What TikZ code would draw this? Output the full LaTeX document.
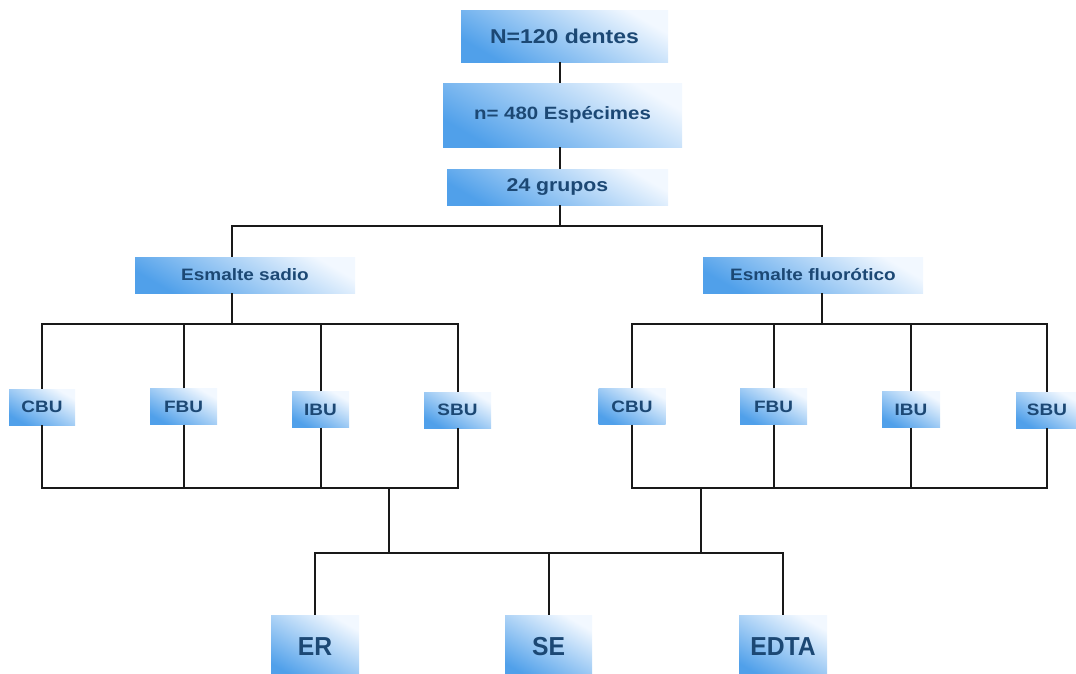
\documentclass[tikz,border=0pt]{standalone}
\usepackage{fontspec}
\setmainfont{Liberation Sans}
\newfontfamily\boxfont{Liberation Sans}[FakeStretch=1.15]
\newfontfamily\bigboxfont{Liberation Sans}[FakeStretch=0.95]
\definecolor{boxdark}{RGB}{80,160,234}
\definecolor{boxlight}{RGB}{242,248,255}
\definecolor{txtblue}{RGB}{28,72,116}
\definecolor{linegray}{RGB}{25,25,25}
\tikzset{
    box/.style={inner sep=0pt, top color=boxlight, bottom color=boxdark, shading angle=-30,
        text=txtblue, font=\boxfont\bfseries},
    leaf/.style={box, minimum height=36pt, font=\boxfont\bfseries\fontsize{16.5}{16.5}\selectfont},
    treat/.style={box, minimum width=88pt, minimum height=64pt, font=\bigboxfont\bfseries\fontsize{26}{26}\selectfont},
    link/.style={draw=linegray, line width=2pt}
}
\begin{document}
\begin{tikzpicture}[x=1pt, y=-1pt]
        \useasboundingbox (0,0) rectangle (1076,673);

        \coordinate (spine) at (560,0);
        \coordinate (tA) at (232,226);
        \coordinate (tB) at (822,226);
        \coordinate (busL) at (42,324);
        \coordinate (busR) at (632,324);
        \coordinate (lowL) at (389,487.5);
        \coordinate (lowR) at (701,487.5);
        \coordinate (busT) at (315,553);

        \node[box, minimum width=207pt, minimum height=52pt, font=\boxfont\bfseries\fontsize{20}{20}\selectfont] (teeth) at (564.5,36) {N=120 dentes};
        \node[box, minimum width=239pt, minimum height=64pt, font=\boxfont\bfseries\fontsize{17.8}{18}\selectfont] (spec) at (562.5,115) {n= 480 Espécimes};
        \node[box, minimum width=221pt, minimum height=36pt, font=\boxfont\bfseries\fontsize{18.5}{18}\selectfont] (groups) at (557.5,187) {24 grupos};

        \node[box, minimum width=220pt, minimum height=36pt, font=\boxfont\bfseries\fontsize{16.5}{16}\selectfont] (sound) at (245,275) {Esmalte sadio};
        \node[box, minimum width=220pt, minimum height=36pt, font=\boxfont\bfseries\fontsize{16.5}{16}\selectfont] (fluor) at (813,275) {Esmalte fluorótico};

        \node[leaf, minimum width=66pt] (cbuL) at (42,407) {CBU};
        \node[leaf, minimum width=67pt] (fbuL) at (183.5,406.5) {FBU};
        \node[leaf, minimum width=57pt] (ibuL) at (320.5,409.5) {IBU};
        \node[leaf, minimum width=67pt] (sbuL) at (457.5,410) {SBU};

        \node[leaf, minimum width=67pt] (cbuR) at (632,406.5) {CBU};
        \node[leaf, minimum width=67pt] (fbuR) at (773.5,406.5) {FBU};
        \node[leaf, minimum width=58pt] (ibuR) at (911,409.5) {IBU};
        \node[leaf, minimum width=62pt] (sbuR) at (1047,410) {SBU};

        \node[treat] (er) at (315,647) {ER};
        \node[treat, minimum width=87pt] (se) at (548.5,647) {SE};
        \node[treat] (edta) at (783,647) {EDTA};

        % trunk
        \draw[link] (spine |- teeth.south) -- (spine |- spec.north);
        \draw[link] (spine |- spec.south) -- (spine |- groups.north);
        \draw[link] (spine |- groups.south) -- (spine |- tA);
        \draw[link] (tA |- sound.north) -- (tA) -- (tB) -- (tB |- fluor.north);

        % enamel groups
        \draw[link] (tA |- sound.south) -- (tA |- busL);
        \draw[link] (tB |- fluor.south) -- (tB |- busR);
        \draw[link] (cbuL.north) -- (busL) -- (sbuL.north |- busL) -- (sbuL.north);
        \draw[link] (fbuL.north) -- (fbuL.north |- busL);
        \draw[link] (ibuL.north) -- (ibuL.north |- busL);
        \draw[link] (cbuR.north) -- (busR) -- (sbuR.north |- busR) -- (sbuR.north);
        \draw[link] (fbuR.north) -- (fbuR.north |- busR);
        \draw[link] (ibuR.north) -- (ibuR.north |- busR);

        % adhesives to bottom bus
        \draw[link] (cbuL.south) -- (cbuL.south |- lowL) -- (sbuL.south |- lowL) -- (sbuL.south);
        \draw[link] (fbuL.south) -- (fbuL.south |- lowL);
        \draw[link] (ibuL.south) -- (ibuL.south |- lowL);
        \draw[link] (cbuR.south) -- (cbuR.south |- lowR) -- (sbuR.south |- lowR) -- (sbuR.south);
        \draw[link] (fbuR.south) -- (fbuR.south |- lowR);
        \draw[link] (ibuR.south) -- (ibuR.south |- lowR);

        % treatments
        \draw[link] (lowL) -- (lowL |- busT);
        \draw[link] (lowR) -- (lowR |- busT);
        \draw[link] (er.north) -- (busT) -- (edta.north |- busT) -- (edta.north);
        \draw[link] (se.north) -- (se.north |- busT);

    \end{tikzpicture}
\end{document}
